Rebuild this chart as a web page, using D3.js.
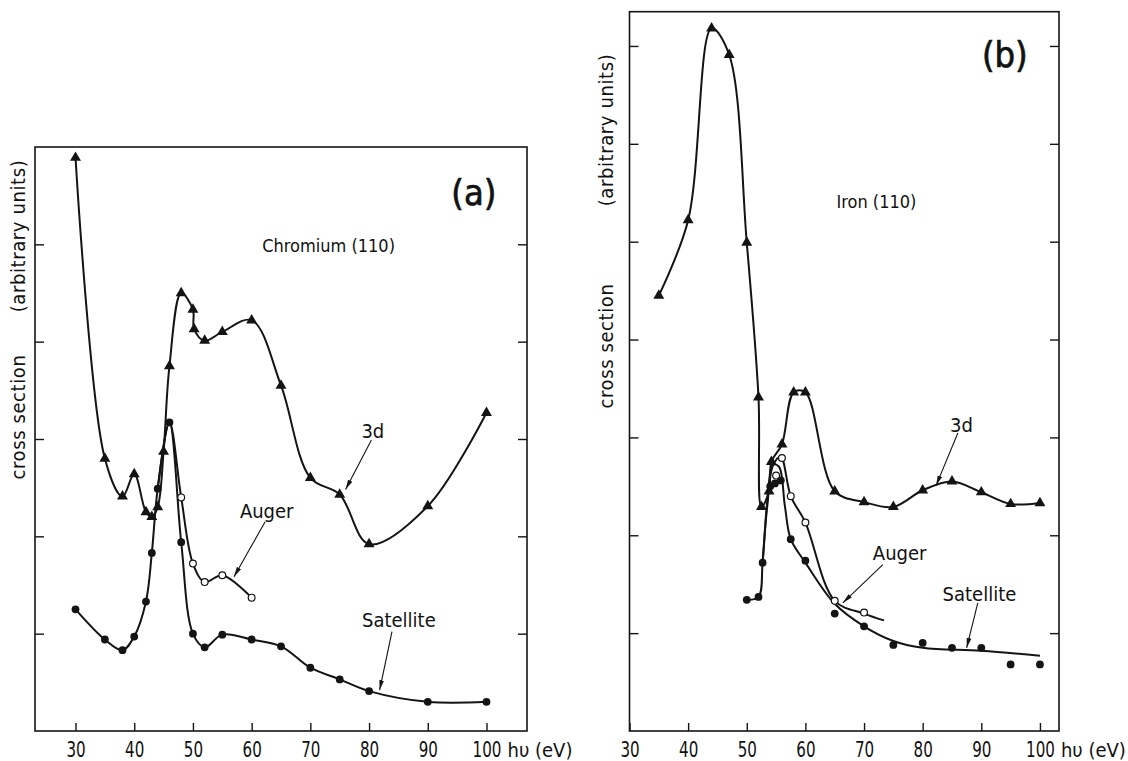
<!DOCTYPE html>
<html>
<head>
<meta charset="utf-8">
<script src="https://cdn.jsdelivr.net/npm/d3@7/dist/d3.min.js"></script>
<style>
  body { margin: 0; background: #fff; }
  svg text { font-family: "DejaVu Sans Condensed", "DejaVu Sans", sans-serif; fill: #111; }
</style>
</head>
<body>
<svg id="chart" width="1128" height="761"></svg>
<script>
// ---- data (photon energy in eV, cross section in arbitrary units) ----
// (a) Chromium (110)
const crE3d = [30, 35, 38, 40, 42, 43, 44, 45, 46, 48, 50, 50.2, 52, 55, 60, 65, 70, 75, 80, 90, 100];
const cr3d  = [5.89, 2.80, 2.41, 2.64, 2.25, 2.20, 2.30, 2.87, 3.75, 4.50, 4.33, 4.13, 4.01, 4.10, 4.22, 3.55, 2.60, 2.43, 1.92, 2.31, 3.27];
const crESat = [30, 35, 38, 40, 42, 43, 44, 46, 48, 50, 52, 55, 60, 65, 70, 75, 80, 90, 100];
const crSat  = [1.25, 0.94, 0.83, 0.97, 1.33, 1.83, 2.49, 3.17, 1.94, 1.00, 0.86, 0.99, 0.94, 0.87, 0.65, 0.53, 0.41, 0.30, 0.30];
const crEAug = [48, 50, 52, 55, 60];
const crAug  = [2.40, 1.72, 1.53, 1.60, 1.37];

// (b) Iron (110)
const feE3d = [35, 40, 44, 47, 50, 52, 52.5, 53.8, 54.2, 56, 58, 60, 65, 70, 75, 80, 85, 90, 95, 100];
const fe3d  = [4.45, 5.22, 7.18, 6.91, 4.99, 3.41, 2.29, 2.45, 2.75, 2.93, 3.46, 3.46, 2.45, 2.34, 2.29, 2.46, 2.55, 2.44, 2.32, 2.33];
const feESat = [50, 52, 52.7, 54, 54.8, 55.8, 57.5, 60, 65, 70, 75, 80, 85, 90, 95, 100];
const feSat  = [1.34, 1.37, 1.72, 2.50, 2.53, 2.56, 1.96, 1.74, 1.20, 1.07, 0.88, 0.90, 0.85, 0.85, 0.68, 0.68];
// smooth fit drawn through the Fe satellite points
const feESatFit = [50, 52, 52.7, 53.5, 54.5, 55.5, 56.5, 57.5, 60, 65, 70, 75, 80, 90, 100];
const feSatFit  = [1.34, 1.37, 1.72, 2.35, 2.72, 2.70, 2.30, 1.96, 1.72, 1.30, 1.07, 0.92, 0.85, 0.82, 0.77];
const feEAug = [55, 56, 57.5, 60, 65, 70];
const feAug  = [2.61, 2.79, 2.40, 2.13, 1.33, 1.21];
const feEAugFit = [52.7, 53.5, 54.5, 55.8, 57.5, 60, 65, 70, 73.4];
const feAugFit  = [1.72, 2.30, 2.72, 2.80, 2.40, 2.13, 1.33, 1.20, 1.13];

const xTicksA = [30, 40, 50, 60, 70, 80, 90, 100];
const xTicksB = [30, 40, 50, 60, 70, 80, 90, 100];
const yTicksA = [1, 2, 3, 4, 5];
const yTicksB = [1, 2, 3, 4, 5, 6, 7];

const ink = "#141414";
const bottom = 731;
const svg = d3.select("#chart");

// arrow head
svg.append("defs").append("marker")
    .attr("id", "head")
    .attr("markerUnits", "userSpaceOnUse")
    .attr("markerWidth", 11).attr("markerHeight", 6)
    .attr("refX", 10).attr("refY", 3)
    .attr("orient", "auto")
    .append("path")
    .attr("d", "M0,0.6 L10,3 L0,5.4 Z")
    .attr("fill", ink);

const pts = (es, vs) => es.map((e, i) => [e, vs[i]]);

function drawPanel(p) {
    const x = d3.scaleLinear().domain(p.xDom).range([p.left, p.right]);
    const y = d3.scaleLinear().domain(p.yDom).range([bottom, p.top]);
    const g = svg.append("g");

    // x axis, ticks pointing inwards
    const xa = g.append("g")
        .attr("transform", "translate(0," + bottom + ")")
        .call(d3.axisBottom(x).tickValues(p.xTicks).tickSize(-8).tickPadding(11).tickFormat(d3.format("d")));
    xa.select(".domain").remove();
    xa.selectAll("line").attr("stroke", ink).attr("stroke-width", 1.4);
    xa.selectAll("text").attr("font-size", 21).attr("fill", ink)
        .attr("transform", "scale(0.8,1)")
        .style("font-family", '"DejaVu Sans Condensed", sans-serif');

    const yl = g.append("g").attr("transform", "translate(" + p.left + ",0)")
        .call(d3.axisLeft(y).tickValues(p.yTicks).tickSize(-9).tickFormat(""));
    const yr = g.append("g").attr("transform", "translate(" + p.right + ",0)")
        .call(d3.axisRight(y).tickValues(p.yTicks).tickSize(-9).tickFormat(""));
    [yl, yr].forEach(a => {
        a.select(".domain").remove();
        a.selectAll("line").attr("stroke", ink).attr("stroke-width", 1.4);
    });

    // frame
    g.append("rect")
        .attr("x", p.left).attr("y", p.top)
        .attr("width", p.right - p.left).attr("height", bottom - p.top)
        .attr("fill", "none").attr("stroke", ink).attr("stroke-width", 1.6);

    g.append("text")
        .attr("x", x(100) + 21).attr("y", bottom + 26)
        .attr("font-size", 20)
        .text("h\u03c5 (eV)");

    // axis title, rotated
    p.yTitle.forEach(t => {
        g.append("text")
            .attr("transform", "translate(" + t.x + "," + t.y + ") rotate(-90)")
            .attr("text-anchor", "middle")
            .attr("font-size", 20)
            .attr("letter-spacing", 0.6)
            .text(t.text);
    });

    const line = d3.line()
        .x(d => x(d[0])).y(d => y(d[1]))
        .curve(d3.curveCatmullRom.alpha(0.5));

    p.curves.forEach(c => {
        g.append("path")
            .attr("d", line(c))
            .attr("fill", "none")
            .attr("stroke", ink)
            .attr("stroke-width", 2)
            .attr("stroke-linejoin", "round");
    });

    g.selectAll(".tri").data(p.tri).join("path")
        .attr("transform", d => "translate(" + x(d[0]) + "," + y(d[1]) + ")")
        .attr("d", d3.symbol(d3.symbolTriangle).size(52))
        .attr("fill", ink);

    g.selectAll(".dot").data(p.dots).join("circle")
        .attr("cx", d => x(d[0])).attr("cy", d => y(d[1]))
        .attr("r", 3.9).attr("fill", ink);

    g.selectAll(".ring").data(p.rings).join("circle")
        .attr("cx", d => x(d[0])).attr("cy", d => y(d[1]))
        .attr("r", 3.4).attr("fill", "#fff")
        .attr("stroke", ink).attr("stroke-width", 1.2);

    // annotations, positioned in data coordinates
    p.notes.forEach(n => {
        const t = g.append("text")
            .attr("x", x(n.e)).attr("y", y(n.v))
            .attr("font-size", n.size)
            .text(n.text);
        if (n.size > 30) t.attr("stroke", ink).attr("stroke-width", 0.7);
        if (n.arrow) {
            g.append("line")
                .attr("x1", x(n.arrow[0])).attr("y1", y(n.arrow[1]))
                .attr("x2", x(n.arrow[2])).attr("y2", y(n.arrow[3]))
                .attr("stroke", ink).attr("stroke-width", 1.1)
                .attr("marker-end", "url(#head)");
        }
    });
}

const crSatPts = pts(crESat, crSat);
drawPanel({
    left: 35, right: 527, top: 147,
    xDom: [23.1, 106.9], yDom: [0, 6],
    xTicks: xTicksA, yTicks: yTicksA,
    yTitle: [{ x: 25, y: 236, text: "(arbitrary units)" }, { x: 25, y: 417, text: "cross section" }],
    curves: [pts(crE3d, cr3d), crSatPts, crSatPts.slice(6, 8).concat(pts(crEAug, crAug))],
    tri: pts(crE3d, cr3d),
    dots: crSatPts,
    rings: pts(crEAug, crAug),
    notes: [
        { text: "(a)", e: 94.0, v: 5.40, size: 36 },
        { text: "Chromium (110)", e: 61.8, v: 4.92, size: 18 },
        { text: "3d", e: 78.7, v: 3.01, size: 20, arrow: [80.4, 2.99, 76.0, 2.48] },
        { text: "Auger", e: 58.0, v: 2.19, size: 20, arrow: [62.3, 2.15, 57.0, 1.585] },
        { text: "Satellite", e: 78.8, v: 1.07, size: 20, arrow: [83.9, 1.02, 81.8, 0.42] }
    ]
});

drawPanel({
    left: 629.5, right: 1059, top: 11.7,
    xDom: [30, 103.25], yDom: [0, 7.35],
    xTicks: xTicksB, yTicks: yTicksB,
    yTitle: [{ x: 613, y: 130, text: "(arbitrary units)" }, { x: 613, y: 346, text: "cross section" }],
    curves: [pts(feE3d, fe3d), pts(feESatFit, feSatFit), pts(feEAugFit, feAugFit)],
    tri: pts(feE3d, fe3d),
    dots: pts(feESat, feSat),
    rings: pts(feEAug, feAug),
    notes: [
        { text: "(b)", e: 90.1, v: 6.78, size: 36 },
        { text: "Iron (110)", e: 65.3, v: 5.34, size: 18 },
        { text: "3d", e: 84.65, v: 3.06, size: 20, arrow: [86.0, 3.045, 82.3, 2.51] },
        { text: "Auger", e: 71.5, v: 1.75, size: 20, arrow: [73.2, 1.70, 66.4, 1.31] },
        { text: "Satellite", e: 83.4, v: 1.33, size: 20, arrow: [89.4, 1.31, 87.5, 0.85] }
    ]
});
</script>
</body>
</html>
